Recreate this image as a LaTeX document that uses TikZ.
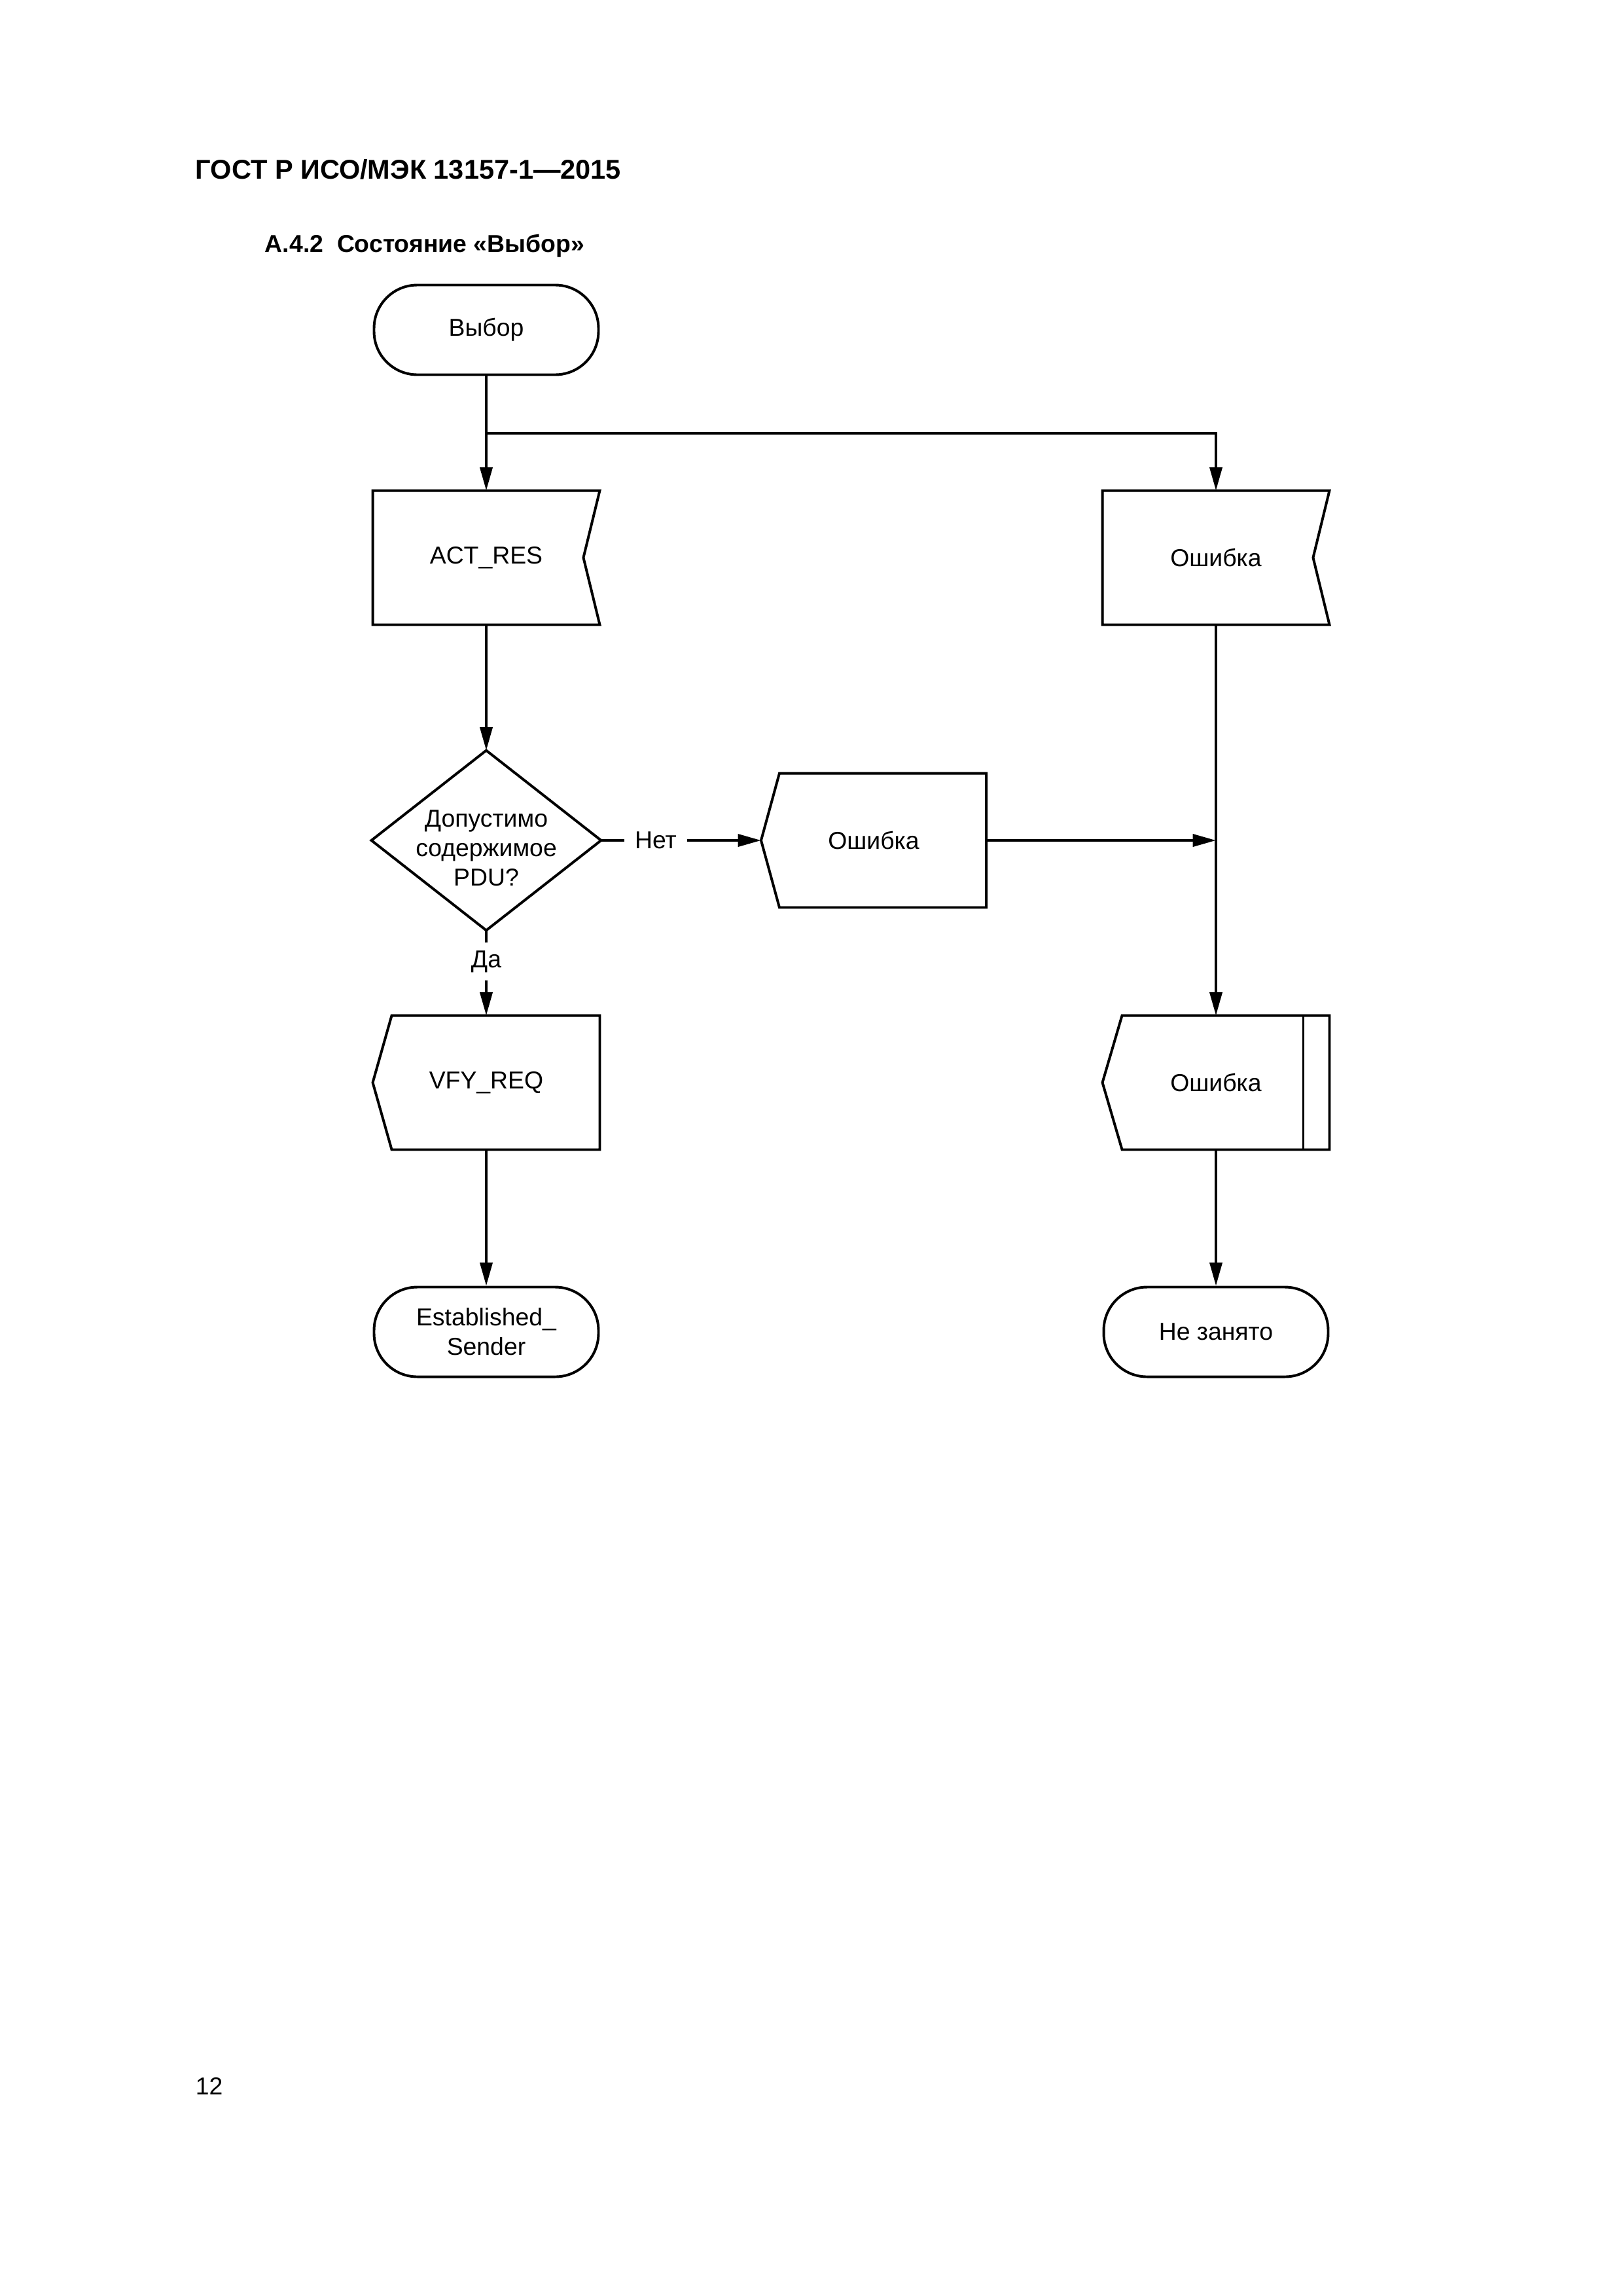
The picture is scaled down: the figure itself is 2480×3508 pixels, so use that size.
\documentclass[tikz,border=0pt]{standalone}
\usepackage{fontspec}
\setmainfont{Liberation Sans}
\usetikzlibrary{arrows.meta,calc}
\begin{document}
\begin{tikzpicture}[x=0.084667mm,y=-0.084667mm,
  line width=0.95pt,
  every node/.style={font=\fontsize{9}{10.8}\selectfont},
  shapebox/.style={minimum width=29.04mm,minimum height=17.02mm,inner sep=0pt,align=center},
  term/.style={draw,rounded corners=5.6mm,minimum width=29.04mm,minimum height=11.6mm,inner sep=0pt,align=center},
  arr/.style={-{Triangle[length=3mm,width=1.6mm]}},
  lbl/.style={inner sep=1.2mm},
  plain/.style={inner sep=0pt,anchor=base west}]
\useasboundingbox (0,0) rectangle (2480,3508);
% headings
\node[plain,font=\fontsize{10}{12}\selectfont\bfseries] (title) at (297,273) {ГОСТ Р ИСО/МЭК 13157-1—2015};
\node[plain,font=\fontsize{9}{10.8}\selectfont\bfseries] (sect) at (403,385) {А.4.2\ \ Состояние «Выбор»};
\node[plain] (page) at (297,3200) {12};
% nodes
\node[term] (vybor) at (743,504) {Выбор};
\node[shapebox] (act) at (743,852) {ACT\_RES};
\node[shapebox] (err1) at (1858,852) {Ошибка};
\node[shapebox,minimum width=29.38mm,minimum height=22.94mm] (dia) at (743,1284)
  {\raisebox{-1.3mm}[\height][\depth]{\begin{tabular}{@{}c@{}}Допустимо\\содержимое\\PDU?\end{tabular}}};
\node[lbl] (net) at (1002,1284) {Нет};
\node[shapebox,minimum width=28.8mm] (err2) at (1335,1284) {Ошибка};
\node[lbl,inner sep=0.9mm] (da) at (743,1469) {Да};
\node[shapebox] (vfy) at (743,1654) {VFY\_REQ};
\node[shapebox] (err3) at (1858,1654) {Ошибка};
\node[term] (est) at (743,2035) {Established\_\\Sender};
\node[term] (free) at (1858,2035) {Не занято};
% outlines
\draw (act.north west) -- (act.north east) -- ($(act.east)+(-25,0)$) -- (act.south east) -- (act.south west) -- cycle;
\draw (err1.north west) -- (err1.north east) -- ($(err1.east)+(-25,0)$) -- (err1.south east) -- (err1.south west) -- cycle;
\draw (dia.north) -- (dia.east) -- (dia.south) -- (dia.west) -- cycle;
\draw (err2.west) -- ($(err2.north west)+(28,0)$) -- (err2.north east) -- (err2.south east) -- ($(err2.south west)+(28,0)$) -- cycle;
\draw (vfy.west) -- ($(vfy.north west)+(29,0)$) -- (vfy.north east) -- (vfy.south east) -- ($(vfy.south west)+(29,0)$) -- cycle;
\draw (err3.west) -- ($(err3.north west)+(30,0)$) -- (err3.north east) -- (err3.south east) -- ($(err3.south west)+(30,0)$) -- cycle;
\draw ($(err3.north east)+(-40,0)$) -- ($(err3.south east)+(-40,0)$);
% connectors
\coordinate (br) at (743,662);
\draw[arr] (vybor.south) -- (act.north);
\draw[arr] (br) -| (err1.north);
\draw[arr] (act.south) -- (dia.north);
\draw (dia.east) -- (net.west);
\draw[arr] (net.east) -- (err2.west);
\coordinate (j) at (err1.south |- err2.east);
\draw[arr] (err2.east) -- (j);
\draw[arr] (err1.south) -- (err3.north);
\draw (dia.south) -- (da.north);
\draw[arr] (da.south) -- (vfy.north);
\draw[arr] (vfy.south) -- (est.north);
\draw[arr] (err3.south) -- (free.north);
\end{tikzpicture}
\end{document}
